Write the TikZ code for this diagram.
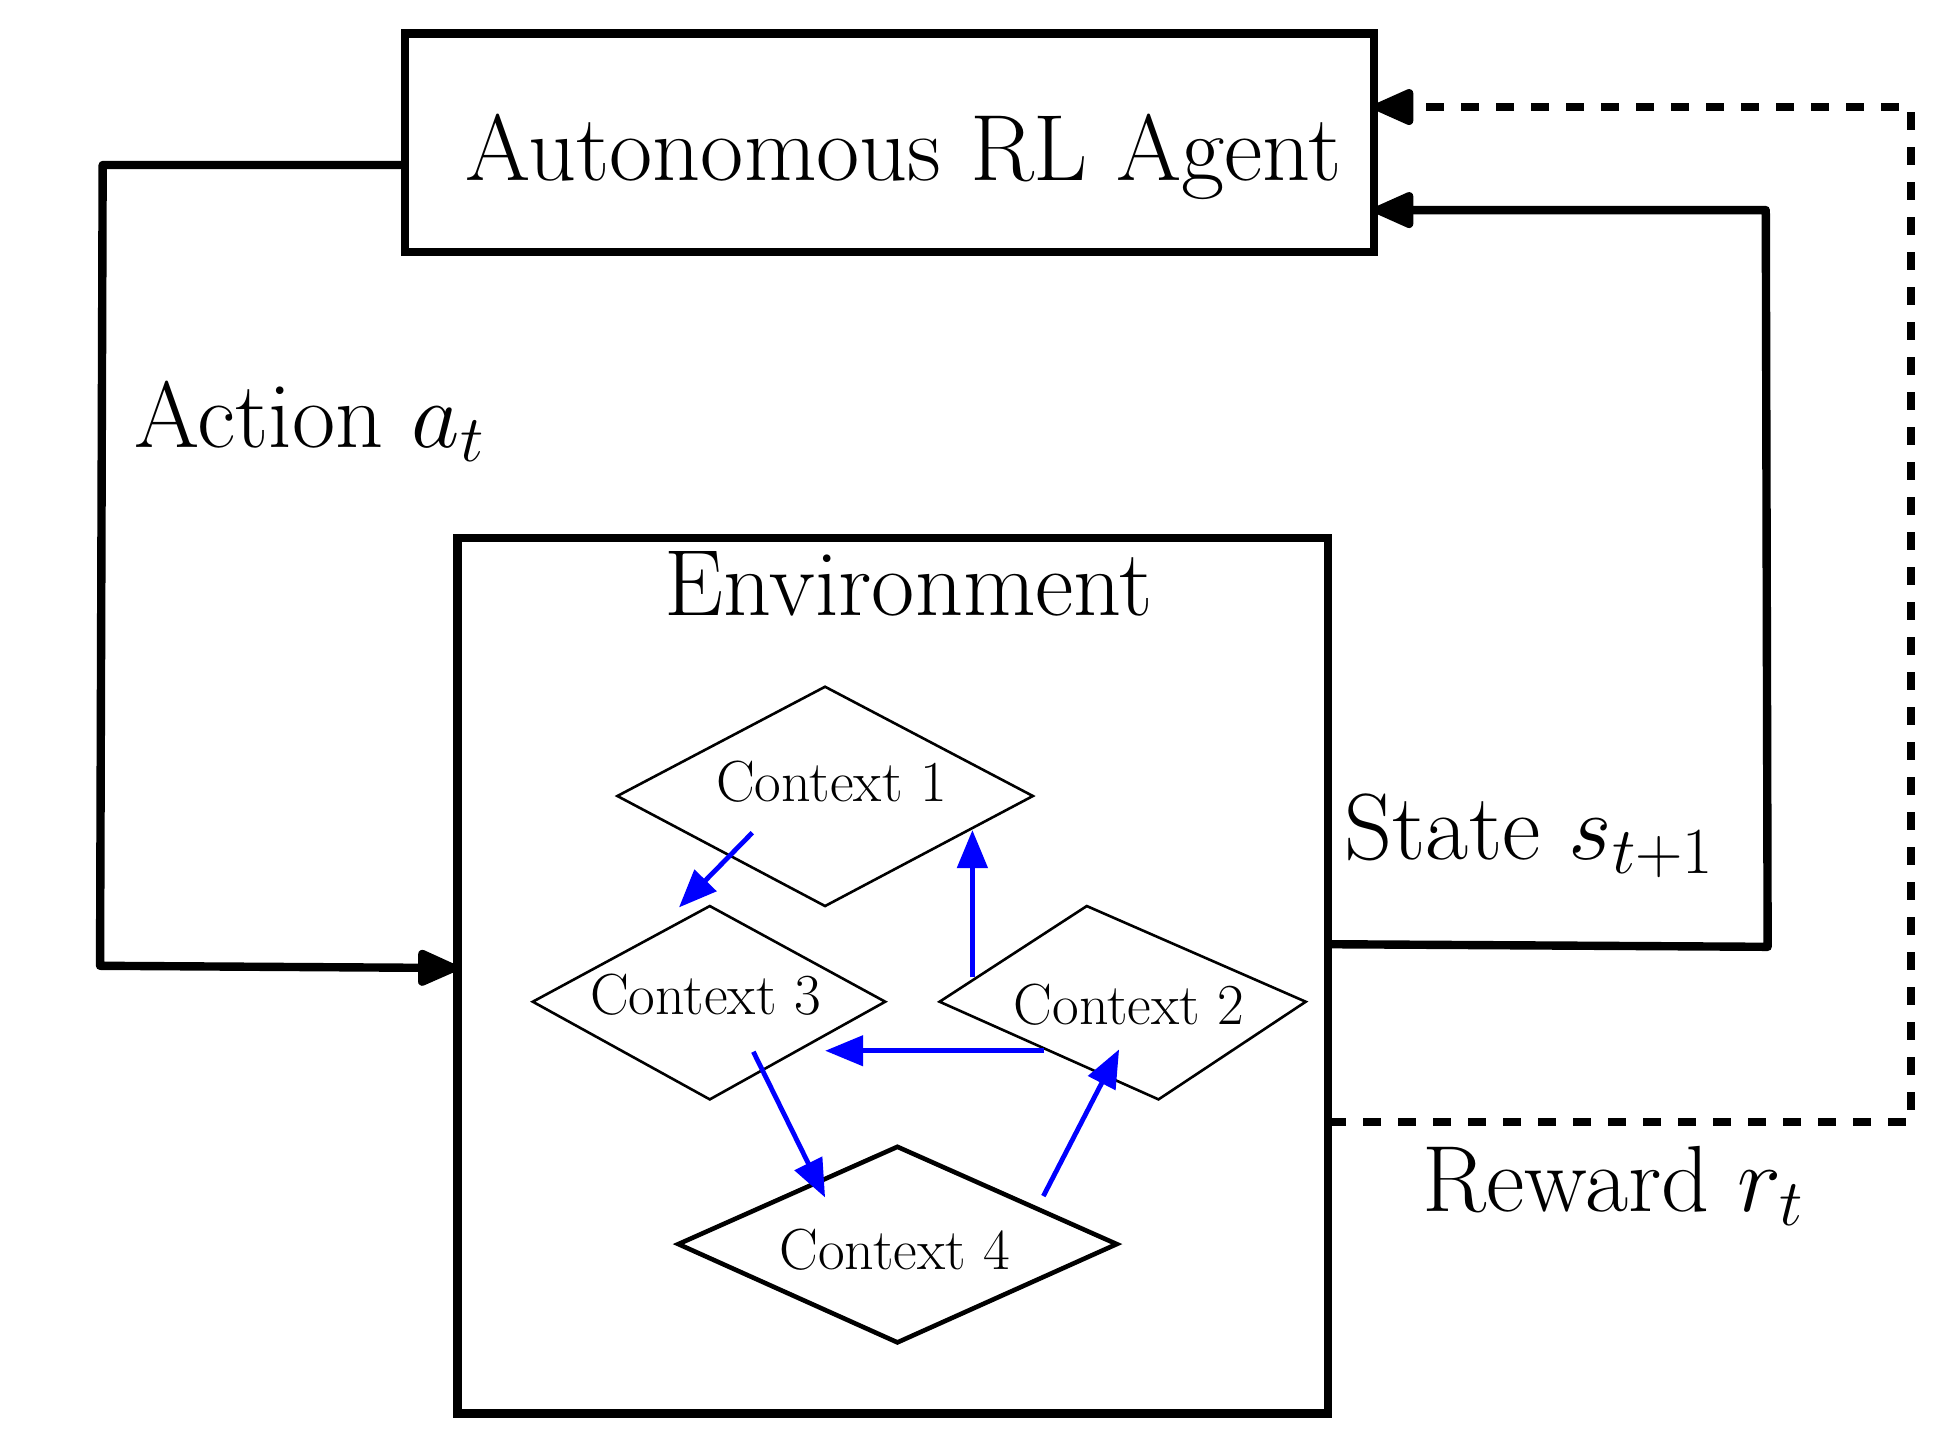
\RequirePackage{fix-cm}
\documentclass[tikz,border=0pt]{standalone}
\usetikzlibrary{arrows.meta}
\begin{document}
\begin{tikzpicture}[x=0.6237pt,y=-0.6237pt,
  bigtxt/.style={font=\fontsize{47}{56}\selectfont, inner sep=0pt},
  ctxtxt/.style={font=\fontsize{29}{35}\selectfont, inner sep=0pt},
  mainbox/.style={draw, line width=4.2pt, inner sep=0pt},
  conn/.style={line width=4.2pt, line join=round, -{Triangle[length=23pt,width=19pt,round]}},
  dashconn/.style={conn, dash pattern=on 9pt off 8.5pt},
  ctxshape/.style={draw, line width=1.3pt, line join=miter},
  ctxshapethick/.style={draw, line width=2.3pt, line join=miter},
  bluearr/.style={draw=blue, line width=2.4pt, -{Triangle[length=19pt,width=15pt]}}]
\useasboundingbox (0,0) rectangle (1568,1156);

% main boxes
\node[mainbox, minimum width=484.5pt, minimum height=109.2pt] (agent) at (713.1,114.25) {};
\node[bigtxt, anchor=base] (agenttext) at (724.5,145) {Autonomous RL Agent};
\node[mainbox, minimum width=435.4pt, minimum height=437.8pt] (env) at (715.65,782) {};
\node[bigtxt, anchor=base] (envtext) at (728.5,493) {Environment};

% contexts
\coordinate (c1w) at (494.9,638.1); \coordinate (c1n) at (661.4,550.5);
\coordinate (c1e) at (828,638.1);   \coordinate (c1s) at (661.4,726.3);
\coordinate (c3w) at (427.1,803);   \coordinate (c3n) at (569,726.3);
\coordinate (c3e) at (709.6,803);   \coordinate (c3s) at (569,881.3);
\coordinate (c2w) at (753.2,803);   \coordinate (c2n) at (871.2,726.3);
\coordinate (c2e) at (1046.7,803);  \coordinate (c2s) at (928.7,881.3);
\coordinate (c4w) at (543.8,997.3); \coordinate (c4n) at (719.4,919.3);
\coordinate (c4e) at (895.2,997.3); \coordinate (c4s) at (719.4,1076.1);
\path[ctxshape] (c1w) -- (c1n) -- (c1e) -- (c1s) -- cycle;
\path[ctxshape] (c3w) -- (c3n) -- (c3e) -- (c3s) -- cycle;
\path[ctxshape] (c2w) -- (c2n) -- (c2e) -- (c2s) -- cycle;
\path[ctxshapethick] (c4w) -- (c4n) -- (c4e) -- (c4s) -- cycle;
\node[ctxtxt, anchor=base] (c1) at (666.5,642.7) {Context 1};
\node[ctxtxt, anchor=base] (c3) at (565.5,813) {Context 3};
\node[ctxtxt, anchor=base] (c2) at (905,821) {Context 2};
\node[ctxtxt, anchor=base] (c4) at (717.3,1018) {Context 4};

% blue transitions
\coordinate (a13s) at (603.1,667.5); \coordinate (a13e) at (544.3,727.4);
\coordinate (a21s) at (779.5,783.5); \coordinate (a21e) at (779.5,665.4);
\coordinate (a23s) at (837,842.3);   \coordinate (a23e) at (661.5,842.3);
\coordinate (a34s) at (603.9,843.1); \coordinate (a34e) at (661.4,959.9);
\coordinate (a42s) at (836.4,958.8); \coordinate (a42e) at (897.1,841.2);
\draw[bluearr] (a13s) -- (a13e);
\draw[bluearr] (a21s) -- (a21e);
\draw[bluearr] (a23s) -- (a23e);
\draw[bluearr] (a34s) -- (a34e);
\draw[bluearr] (a42s) -- (a42e);

% action loop
\coordinate (actout) at (324.7,132.3);
\coordinate (actb1) at (82.3,132.3);
\coordinate (actb2) at (80.2,774.2);
\coordinate (actin) at (366.6,776);
\draw[conn] (actout) -- (actb1) -- (actb2) -- (actin);
\node[bigtxt, anchor=base west] (actlabel) at (107.5,358.6) {Action $a_t$};

% state loop
\coordinate (stout) at (1064.7,756.9);
\coordinate (stb1) at (1417,759);
\coordinate (stb2) at (1415.5,168.4);
\coordinate (stin) at (1101.5,168.4);
\draw[conn] (stout) -- (stb1) -- (stb2) -- (stin);
\node[bigtxt, anchor=base west] (stlabel) at (1077.5,688.9) {State $s_{t+1}$};

% reward loop
\coordinate (rwout) at (1064.7,899.2);
\coordinate (rwb1) at (1532,899.2);
\coordinate (rwb2) at (1532,85.8);
\coordinate (rwin) at (1101.5,85.8);
\draw[dashconn] (rwout) -- (rwb1) -- (rwb2) -- (rwin);
\node[bigtxt, anchor=base west] (rwlabel) at (1140,971.4) {Reward $r_t$};
\end{tikzpicture}
\end{document}
